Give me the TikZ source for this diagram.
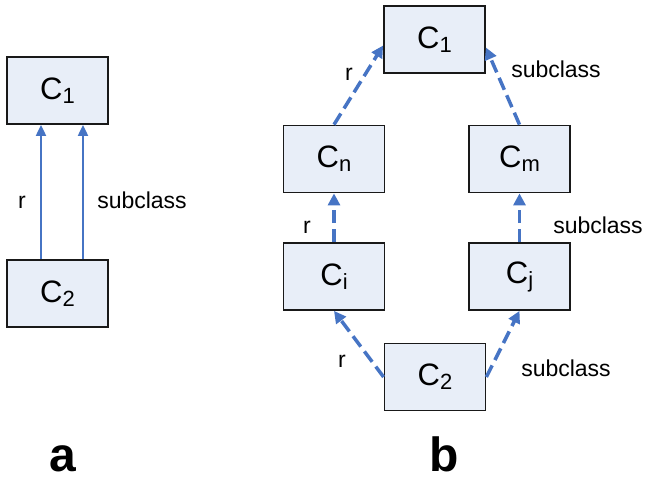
\documentclass[tikz,border=0pt]{standalone}
\usepackage{fontspec}
\setmainfont{Liberation Sans}
\usetikzlibrary{arrows.meta}
\definecolor{boxfill}{RGB}{232,238,248}
\definecolor{linkblue}{RGB}{70,116,196}
\newcommand*{\csub}[1]{\raisebox{-4pt}{\fontsize{22}{24}\selectfont #1}}

\begin{document}
\begin{tikzpicture}[x=1pt,y=-1pt,>={Triangle[length=11pt,width=10pt]},
    cls/.style={draw=black!90,line width=1.8pt,fill=boxfill,minimum width=101pt,minimum height=67pt,inner sep=0pt,font=\fontsize{31}{36}\selectfont},
    lbl/.style={font=\fontsize{23}{27}\selectfont,inner sep=0pt,anchor=base},
    panel/.style={font=\fontsize{48}{52}\selectfont\bfseries,inner sep=0pt,anchor=base},
    rel/.style={->,linkblue,line width=2pt},
    relb/.style={-{Triangle[length=12pt,width=12pt]},linkblue,line width=3.5pt,dash pattern=on 13pt off 6pt}]
                \useasboundingbox (0,0) rectangle (648,479);

                % panel a
                \node[cls] (a1) at (57.5,90.5) {C\csub{1}};
                \node[cls] (a2) at (57.5,293.5) {C\csub{2}};
                \draw[rel] ([xshift=-16.5pt]a2.north) -- ([xshift=-16.5pt]a1.south);
                \draw[rel] ([xshift=25.5pt]a2.north) -- ([xshift=25.5pt]a1.south);
                \node[lbl] (ra) at (22,208) {r};
                \node[lbl] (sa) at (142,208) {subclass};

                % panel b
                \node[cls] (b1) at (434.5,39.5) {C\csub{1}};
                \node[cls] (bn) at (334,159) {C\csub{n}};
                \node[cls] (bm) at (519.5,159) {C\csub{m}};
                \node[cls] (bi) at (334,276.5) {C\csub{i}};
                \node[cls] (bj) at (519.5,276.5) {C\csub{j}};
                \node[cls] (b2) at (435,377) {C\csub{2}};

                \draw[relb] (bn.north) -- ([yshift=-6pt]b1.west);
                \draw[relb] (bm.north) -- ([yshift=-8pt]b1.east);
                \draw[relb] (bi.north) -- (bn.south);
                \draw[relb] (bj.north) -- (bm.south);
                \draw[relb] (b2.west) -- (bi.south);
                \draw[relb] (b2.east) -- (bj.south);

                \node[lbl] (rb1) at (349,80) {r};
                \node[lbl] (sb1) at (556,77) {subclass};
                \node[lbl] (rb2) at (307,233) {r};
                \node[lbl] (sb2) at (598,233) {subclass};
                \node[lbl] (rb3) at (342,367) {r};
                \node[lbl] (sb3) at (566,376) {subclass};

                \node[panel] (pa) at (63,471) {a};
                \node[panel] (pb) at (444.5,471) {b};
            \end{tikzpicture}
\end{document}
